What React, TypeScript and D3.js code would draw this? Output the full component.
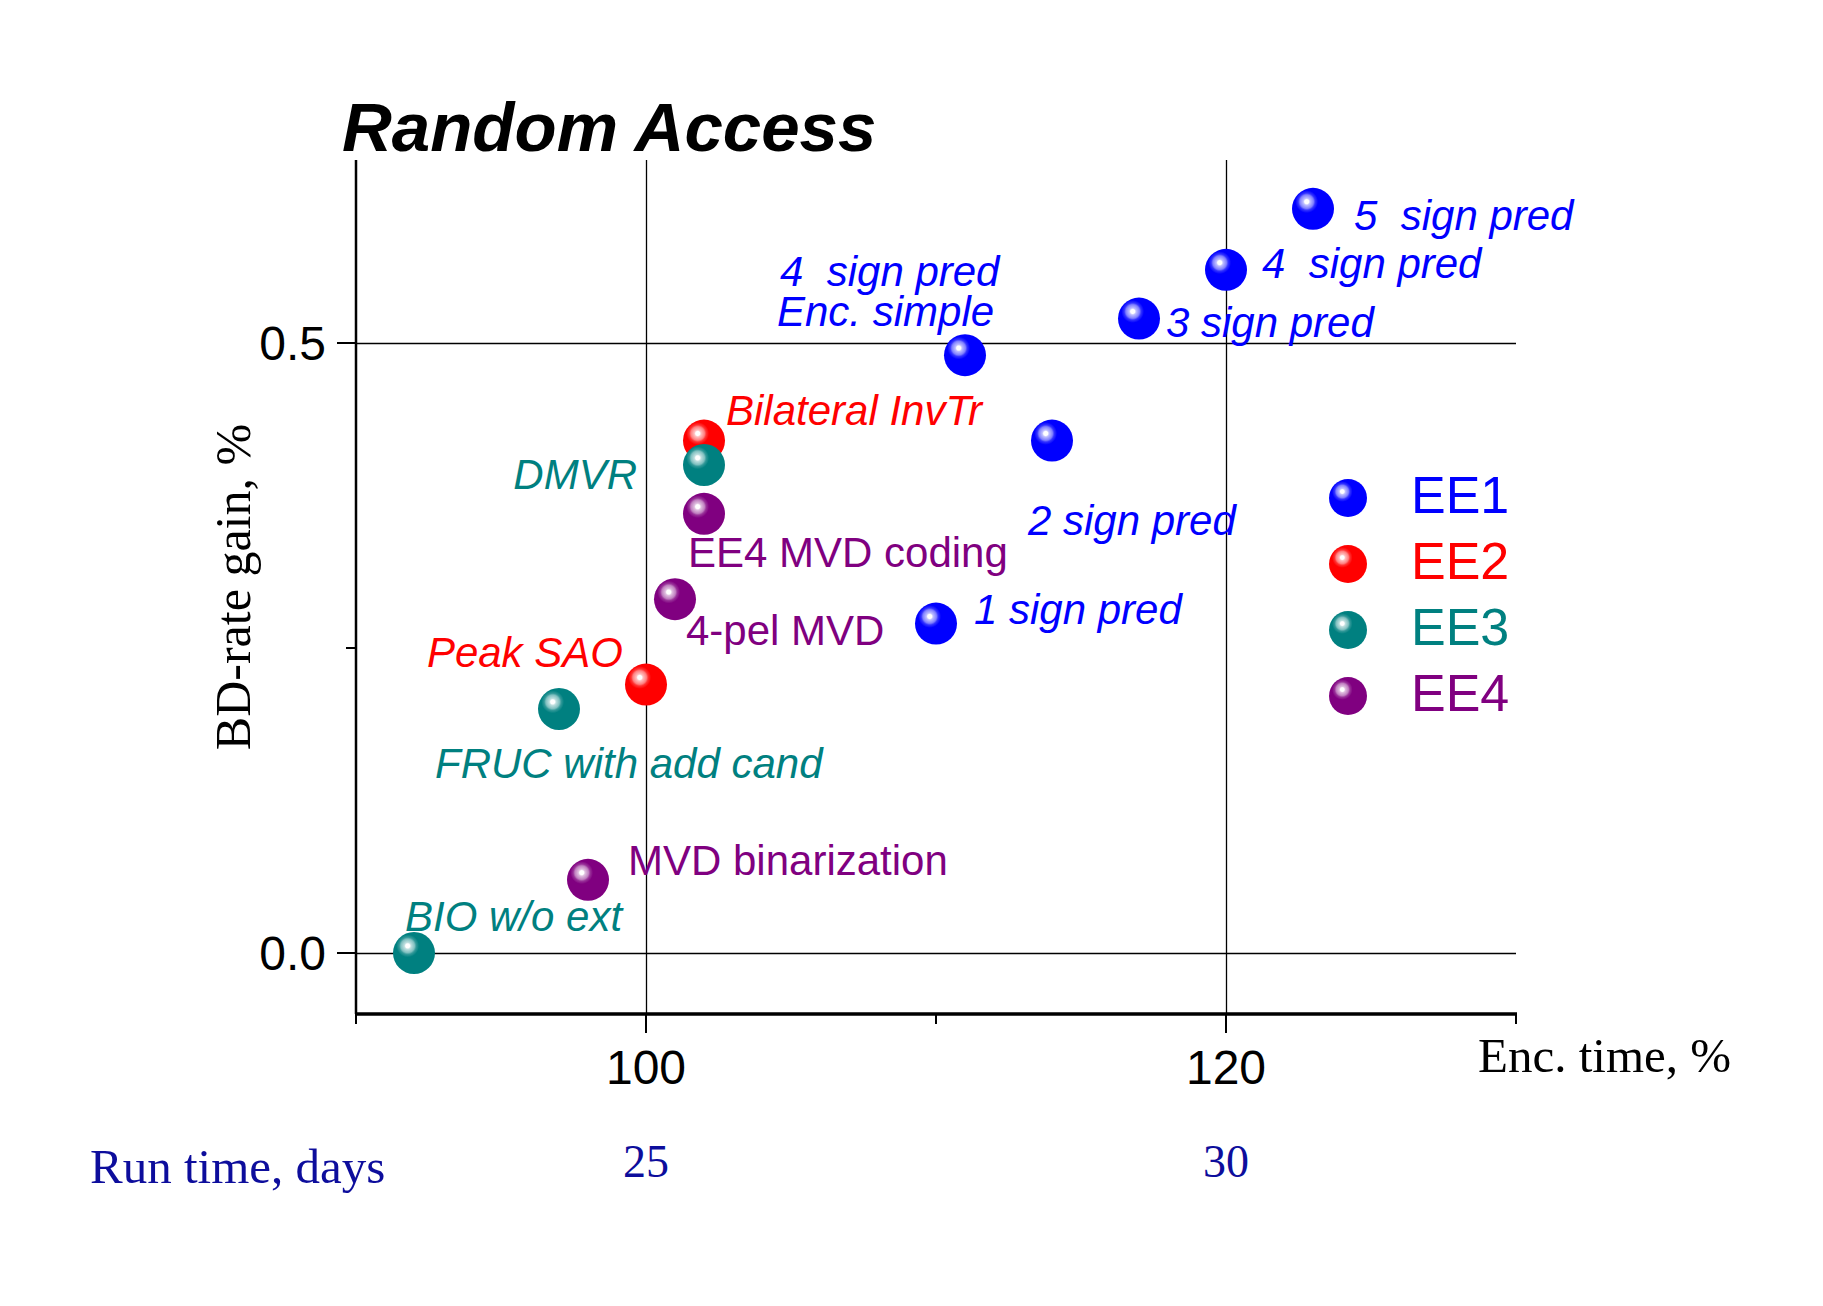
import React from "react";
import * as d3 from "d3";

// ---------- data ----------
const seriesNames = ["EE1", "EE2", "EE3", "EE4"];
const seriesColors = ["#0000FF", "#FF0000", "#008080", "#800080"];

const ee1Enc = [123, 120, 117, 111, 114, 110];
const ee1Gain = [0.61, 0.56, 0.52, 0.49, 0.42, 0.27];
const ee1Labels = ["5  sign pred", "4  sign pred", "3 sign pred", "4  sign pred|Enc. simple", "2 sign pred", "1 sign pred"];

const ee2Enc = [102, 100];
const ee2Gain = [0.42, 0.22];
const ee2Labels = ["Bilateral InvTr", "Peak SAO"];

const ee3Enc = [102, 97, 92];
const ee3Gain = [0.4, 0.2, 0.0];
const ee3Labels = ["DMVR", "FRUC with add cand", "BIO w/o ext"];

const ee4Enc = [102, 101, 98];
const ee4Gain = [0.36, 0.29, 0.06];
const ee4Labels = ["EE4 MVD coding", "4-pel MVD", "MVD binarization"];

const xTicks = [90, 100, 110, 120, 130];
const xLabeledTicks = [100, 120];
const yTicks = [0, 0.25, 0.5];
const yLabeledTicks = [0, 0.5];
const runTimeTicks = [100, 120];
const runTimeLabels = ["25", "30"];

// ---------- layout (label placement, px offsets from the point) ----------
const ee1LabelPos = [
  { dx: 41, dy: 21, anchor: "start" },
  { dx: 36, dy: 8, anchor: "start" },
  { dx: 27, dy: 18, anchor: "start" },
  { dx: -185, dy: -69, anchor: "start", lineGap: 40, dx2: -3 },
  { dx: -24, dy: 94, anchor: "start" },
  { dx: 38, dy: 0, anchor: "start" },
];
const ee2LabelPos = [
  { dx: 22, dy: -16, anchor: "start" },
  { dx: -23, dy: -18, anchor: "end" },
];
const ee3LabelPos = [
  { dx: -67, dy: 24, anchor: "end" },
  { dx: -124, dy: 69, anchor: "start" },
  { dx: -9, dy: -22, anchor: "start" },
];
const ee4LabelPos = [
  { dx: -16, dy: 53, anchor: "start" },
  { dx: 11, dy: 46, anchor: "start" },
  { dx: 40, dy: -5, anchor: "start" },
];

const W = 1823;
const H = 1306;
const SANS = "'Liberation Sans', Arial, sans-serif";
const SERIF = "'Liberation Serif', 'Times New Roman', serif";

const x = d3.scaleLinear().domain([90, 130]).range([356, 1516]);
const y = d3.scaleLinear().domain([-0.05, 0.65]).range([1014, 160]);

function lighten(c: string, t: number) {
  return d3.interpolateRgb(c, "#ffffff")(t);
}

export default function App() {
  const series = [
    { enc: ee1Enc, gain: ee1Gain, labels: ee1Labels, pos: ee1LabelPos, italic: true },
    { enc: ee2Enc, gain: ee2Gain, labels: ee2Labels, pos: ee2LabelPos, italic: true },
    { enc: ee3Enc, gain: ee3Gain, labels: ee3Labels, pos: ee3LabelPos, italic: true },
    { enc: ee4Enc, gain: ee4Gain, labels: ee4Labels, pos: ee4LabelPos, italic: false },
  ];
  const [x0, x1] = x.range();
  const [yb, yt] = y.range();

  return (
    <svg
      width={W}
      height={H}
      viewBox={`0 0 ${W} ${H}`}
      style={{ position: "absolute", left: 0, top: 0, background: "#fff" }}
    >
      <defs>
        {seriesColors.map((c, i) => (
          <radialGradient key={i} id={`ball${i}`} cx="0.35" cy="0.33" fx="0.35" fy="0.33" r="0.27">
            <stop offset="0" stopColor="#ffffff" />
            <stop offset="0.18" stopColor="#ffffff" />
            <stop offset="0.3" stopColor={lighten(c, 0.75)} />
            <stop offset="0.6" stopColor={lighten(c, 0.5)} />
            <stop offset="0.75" stopColor={lighten(c, 0.2)} />
            <stop offset="1" stopColor={c} />
          </radialGradient>
        ))}
      </defs>
      <rect x={0} y={0} width={W} height={H} fill="#fff" />

      {/* title */}
      <text x={342} y={151} fontFamily={SANS} fontSize={69} fontWeight="bold" fontStyle="italic" fill="#000">
        Random Access
      </text>

      {/* grid lines */}
      {yLabeledTicks.map((t) => (
        <line key={`gy${t}`} x1={x0} x2={x1} y1={Math.round(y(t)) + 0.5} y2={Math.round(y(t)) + 0.5} stroke="#000" strokeWidth={1.3} />
      ))}
      {xLabeledTicks.map((t) => (
        <line key={`gx${t}`} x1={Math.round(x(t)) + 0.5} x2={Math.round(x(t)) + 0.5} y1={yb} y2={yt} stroke="#000" strokeWidth={1.3} />
      ))}

      {/* axes */}
      <line x1={x0} x2={x0} y1={yt} y2={yb} stroke="#000" strokeWidth={2.5} />
      <line x1={x0 - 1} x2={x1 + 1} y1={yb} y2={yb} stroke="#000" strokeWidth={3.5} />
      {xTicks.map((t) => {
        const major = xLabeledTicks.includes(t);
        return (
          <line key={`xt${t}`} x1={x(t)} x2={x(t)} y1={yb} y2={yb + (major ? 19 : 10)} stroke="#000" strokeWidth={2} />
        );
      })}
      {yTicks.map((t) => {
        const major = yLabeledTicks.includes(t);
        return (
          <line key={`yt${t}`} x1={x0 - (major ? 19 : 10)} x2={x0} y1={y(t)} y2={y(t)} stroke="#000" strokeWidth={2} />
        );
      })}
      {xLabeledTicks.map((t) => (
        <text key={`xl${t}`} x={x(t)} y={1084} textAnchor="middle" fontFamily={SANS} fontSize={48} fill="#000">
          {t}
        </text>
      ))}
      {yLabeledTicks.map((t) => (
        <text key={`yl${t}`} x={326} y={y(t) + 17} textAnchor="end" fontFamily={SANS} fontSize={48} fill="#000">
          {d3.format(".1f")(t)}
        </text>
      ))}

      {/* axis titles */}
      <text x={1478} y={1072} fontFamily={SERIF} fontSize={49} fill="#000">
        Enc. time, %
      </text>
      <text
        transform={`translate(250, 587) rotate(-90)`}
        textAnchor="middle"
        fontFamily={SERIF}
        fontSize={50}
        fill="#000"
      >
        BD-rate gain, %
      </text>
      <text x={90} y={1183} fontFamily={SERIF} fontSize={49} fill="#0d0d9c">
        Run time, days
      </text>
      {runTimeTicks.map((t, i) => (
        <text key={`rt${t}`} x={x(t)} y={1177} textAnchor="middle" fontFamily={SERIF} fontSize={46} fill="#0d0d9c">
          {runTimeLabels[i]}
        </text>
      ))}

      {/* points */}
      {series.map((s, si) =>
        s.enc.map((e, i) => (
          <circle key={`p${si}-${i}`} cx={x(e)} cy={y(s.gain[i])} r={21} fill={`url(#ball${si})`} />
        ))
      )}

      {/* point labels */}
      {series.map((s, si) =>
        s.labels.map((lab, i) => {
          const p = s.pos[i] as any;
          const px = x(s.enc[i]);
          const py = y(s.gain[i]);
          const lines = lab.split("|");
          return (
            <text
              key={`l${si}-${i}`}
              fontFamily={SANS}
              fontSize={42}
              fontStyle={s.italic ? "italic" : "normal"}
              fill={seriesColors[si]}
              textAnchor={p.anchor}
              style={{ whiteSpace: "pre" }}
            >
              {lines.map((ln, li) => (
                <tspan
                  key={li}
                  x={px + (li === 0 ? p.dx : p.dx + (p.dx2 || 0))}
                  y={py + p.dy + li * (p.lineGap || 0)}
                >
                  {ln}
                </tspan>
              ))}
            </text>
          );
        })
      )}

      {/* legend */}
      {seriesNames.map((n, i) => (
        <g key={`lg${n}`} transform={`translate(1348, ${498 + i * 66})`}>
          <circle cx={0} cy={0} r={19} fill={`url(#ball${i})`} />
          <text x={63} y={15} fontFamily={SANS} fontSize={52} fill={seriesColors[i]}>
            {n}
          </text>
        </g>
      ))}
    </svg>
  );
}
